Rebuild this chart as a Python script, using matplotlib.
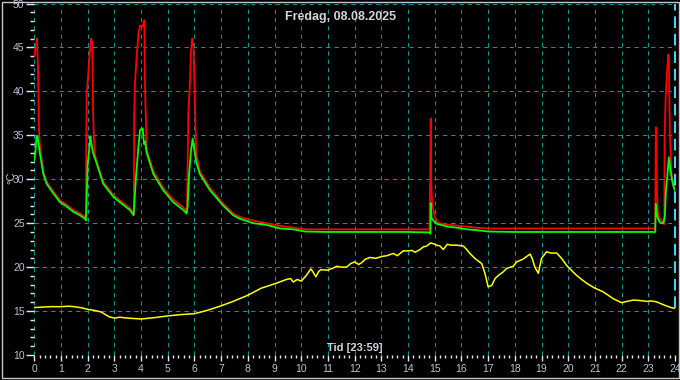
import matplotlib
matplotlib.use("Agg")
import matplotlib.pyplot as plt
from matplotlib.patches import Rectangle
from matplotlib.ticker import MultipleLocator

plt.rcParams["font.family"] = ["Liberation Sans", "DejaVu Sans"]

TITLE = "Fredag, 08.08.2025"
XLABEL = "Tid [23:59]"
YLABEL = "°C"

# red series (timer, °C)
red_t = [0.00, 0.05, 0.10, 0.14, 0.17, 0.20, 0.25, 0.34, 0.46, 0.71, 0.96, 1.21, 1.46, 1.71, 1.90,
         1.93, 1.96, 2.03, 2.09, 2.13, 2.17, 2.20, 2.23, 2.26, 2.34, 2.58, 2.96, 3.20, 3.58, 3.72,
         3.73, 3.74, 3.77, 3.84, 3.90, 3.96, 4.02, 4.08, 4.12, 4.14, 4.16, 4.21, 4.46, 4.83, 5.20, 5.58, 5.70,
         5.72, 5.77, 5.83, 5.87, 5.92, 5.96, 6.02, 6.06, 6.20, 6.58, 7.08, 7.45, 7.70, 8.20, 8.70, 9.20, 9.70,
         10.14, 11.0, 12.0, 13.0, 14.0, 14.80,
         14.83, 14.85, 14.87, 14.90, 15.00, 15.10, 15.30, 15.60, 15.90, 16.50, 17.0, 18.0, 19.0, 20.0, 21.0,
         22.0, 23.0, 23.26,
         23.28, 23.30, 23.33, 23.36, 23.43, 23.56, 23.60, 23.61, 23.65, 23.69, 23.72, 23.75, 23.77, 23.81,
         23.87, 23.93, 24.0]
red_v = [44.0, 45.0, 46.0, 42.4, 36.4, 34.2, 32.9, 30.8, 29.7, 28.6, 27.6, 27.1, 26.5, 26.1, 25.7,
         25.6, 39.4, 42.4, 45.0, 46.0, 45.5, 38.0, 34.9, 33.0, 31.9, 29.7, 28.2, 27.6, 26.7, 26.1,
         26.0, 37.1, 40.9, 44.3, 46.5, 47.5, 47.3, 47.6, 48.1, 42.0, 39.0, 33.3, 30.9, 29.0, 27.7, 26.8, 26.4,
         26.3, 37.5, 40.9, 44.7, 46.0, 45.3, 38.6, 33.0, 30.9, 29.0, 27.2, 26.1, 25.7, 25.3, 25.0, 24.7, 24.5,
         24.3, 24.3, 24.3, 24.3, 24.3, 24.3,
         30.0, 36.9, 29.5, 27.3, 25.7, 25.1, 24.9, 24.8, 24.7, 24.5, 24.4, 24.4, 24.4, 24.4, 24.4,
         24.4, 24.4, 24.4,
         35.9, 35.5, 28.4, 26.1, 25.5, 25.1, 24.9, 34.8, 39.3, 41.6, 43.1, 44.2, 43.5, 34.8,
         30.6, 29.5, 29.1]

# green series
green_t = [0.00, 0.04, 0.08, 0.12, 0.16, 0.21, 0.34, 0.46, 0.71, 0.96, 1.21, 1.46, 1.71, 1.90,
           1.93, 1.95, 2.00, 2.05, 2.10, 2.14, 2.20, 2.34, 2.58, 2.96, 3.20, 3.58, 3.72,
           3.75, 3.81, 3.90, 3.96, 4.06, 4.11, 4.15, 4.21, 4.46, 4.83, 5.20, 5.58, 5.70,
           5.74, 5.80, 5.87, 5.93, 5.98, 6.08, 6.20, 6.58, 7.08, 7.45, 7.70, 8.20, 8.70, 9.20, 9.70,
           10.14, 11.0, 12.0, 13.0, 14.0, 14.80,
           14.84, 14.85, 14.88, 15.0, 15.1, 15.5, 15.8, 16.2, 16.6, 17.0, 18.0, 19.0, 20.0, 21.0,
           22.0, 23.0, 23.26,
           23.28, 23.33, 23.43, 23.56, 23.62, 23.66, 23.72, 23.77, 23.83, 23.89, 23.95, 24.0]
green_v = [32.2, 33.0, 34.8, 34.9, 34.0, 32.9, 30.6, 29.5, 28.4, 27.4, 26.9, 26.3, 25.9, 25.5,
           25.3, 26.5, 31.8, 33.2, 34.9, 34.0, 33.0, 31.8, 29.5, 28.0, 27.4, 26.5, 25.9,
           27.3, 30.3, 33.7, 35.6, 35.8, 34.0, 34.3, 33.0, 30.6, 28.75, 27.4, 26.5, 26.1,
           26.8, 30.6, 33.3, 34.6, 33.6, 31.8, 30.6, 28.75, 27.0, 25.9, 25.5, 25.0, 24.8, 24.4, 24.3,
           24.05, 24.0, 24.0, 24.0, 24.0, 23.95,
           23.8, 27.3, 25.6, 25.1, 24.9, 24.6, 24.5, 24.3, 24.2, 24.05, 24.0, 24.0, 24.0, 24.0,
           24.0, 24.0, 24.0,
           27.2, 25.8, 25.1, 24.97, 25.8, 28.75, 30.6, 32.5, 31.0, 29.9, 29.1, 28.75]

# yellow series (ute)
yellow_t = [0.0, 0.3, 0.6, 1.0, 1.3, 1.5, 1.8, 2.0, 2.3, 2.5, 2.8, 3.0, 3.2, 3.5, 4.0, 4.5, 5.0, 5.5,
            6.0, 6.5, 7.0, 7.45, 8.0, 8.5, 9.0, 9.45, 9.6, 9.7, 9.85, 10.0, 10.2, 10.36, 10.45, 10.55,
            10.65, 10.73, 11.0, 11.2, 11.33, 11.5, 11.7, 11.85, 12.0, 12.15, 12.26, 12.4, 12.57, 12.8,
            13.0, 13.2, 13.45, 13.6, 13.82, 14.0, 14.15, 14.26, 14.45, 14.57, 14.7, 14.85, 15.0, 15.07,
            15.2, 15.32, 15.47, 15.6, 15.82, 16.07, 16.2, 16.32, 16.5, 16.76, 16.88, 17.0, 17.13, 17.26,
            17.4, 17.57, 17.69, 17.94, 18.07, 18.3, 18.57, 18.65, 18.75, 18.88, 19.0, 19.19, 19.35,
            19.57, 19.75, 19.94, 20.1, 20.3, 20.5, 20.7, 21.0, 21.3, 21.5, 21.69, 22.0, 22.2, 22.43,
            22.7, 22.94, 23.1, 23.3, 23.5, 23.69, 23.85, 24.0]
yellow_v = [15.4, 15.45, 15.5, 15.5, 15.55, 15.5, 15.35, 15.2, 15.05, 14.9, 14.35, 14.2, 14.3, 14.2,
            14.1, 14.25, 14.45, 14.6, 14.7, 15.1, 15.6, 16.1, 16.8, 17.6, 18.1, 18.6, 18.7, 18.3,
            18.6, 18.4, 19.1, 19.8, 19.4, 18.9, 19.5, 19.7, 19.66, 19.9, 20.1, 20.0, 20.0, 20.4, 20.6,
            20.3, 20.5, 20.9, 21.1, 21.0, 21.2, 21.3, 21.55, 21.3, 21.85, 21.85, 21.9, 21.7, 22.0,
            22.3, 22.4, 22.76, 22.6, 22.5, 22.4, 22.0, 22.6, 22.5, 22.5, 22.4, 22.0, 21.55, 21.0,
            20.4, 19.3, 17.76, 17.9, 18.7, 19.1, 19.47, 19.85, 20.1, 20.6, 20.9, 21.48, 21.0, 20.0,
            19.3, 21.0, 21.75, 21.6, 21.6, 21.0, 20.2, 19.7, 19.1, 18.6, 18.15, 17.6, 17.2, 16.8,
            16.4, 15.95, 16.1, 16.25, 16.2, 16.1, 16.15, 16.06, 15.8, 15.57, 15.4, 15.3]

x_ticks = list(range(0, 25))
y_ticks = [10, 15, 20, 25, 30, 35, 40, 45, 50]

fig = plt.figure(figsize=(6.8, 3.8), dpi=100, facecolor="black")
ax = fig.add_axes([34.3 / 680, 25 / 380, 640.7 / 680, 351.5 / 380])
ax.set_facecolor("black")
ax.set_xlim(0, 24)
ax.set_ylim(10, 50)

for s in ax.spines.values():
    s.set_visible(False)

ax.set_xticks(x_ticks)
ax.set_yticks(y_ticks)
ax.xaxis.set_minor_locator(MultipleLocator(0.2))
ax.yaxis.set_minor_locator(MultipleLocator(1))
ax.tick_params(axis="both", which="both", colors="#e8e8e8", labelcolor="#b8c4d8", labelsize=7.5)
ax.tick_params(axis="y", which="major", length=6, width=1, pad=1)
ax.tick_params(axis="y", which="minor", length=3, width=1)
ax.tick_params(axis="x", which="major", length=4.5, width=1, pad=2)
ax.tick_params(axis="x", which="minor", length=2.5, width=1)

ax.grid(True, which="major", color="#009a9a", linestyle=(0, (4, 4)), linewidth=0.75)
ax.set_axisbelow(True)

ax.plot(red_t, red_v, color="#ff0000", linewidth=1.3, zorder=3)
ax.plot(green_t, green_v, color="#00ff00", linewidth=1.3, zorder=4)
ax.plot(yellow_t, yellow_v, color="#ffff00", linewidth=1.1, zorder=3)

# nå-markør
ax.axvline(24, ymin=(15.3 - 10) / 40, ymax=1, color="#40dcff", linewidth=1.4,
           linestyle=(0, (6, 3)), zorder=5, clip_on=False)

fig.text(341 / 680, 1 - 17 / 380, TITLE, color="#d0d4dc", fontsize=9, fontweight="bold",
         ha="center", va="center")
fig.text(355 / 680, 1 - 348 / 380, XLABEL, color="#d0d4dc", fontsize=8, fontweight="bold",
         ha="center", va="center")
fig.text(11 / 680, 1 - 178 / 380, YLABEL, color="#c0c8d8", fontsize=8, rotation=90,
         ha="center", va="center")

fig.patches.append(Rectangle((1.5 / 680, 2.5 / 380), 677 / 680, 376 / 380, transform=fig.transFigure,
                             fill=False, edgecolor="#c8c8c8", linewidth=1))

fig.savefig("out.png", dpi=100, facecolor="black")
